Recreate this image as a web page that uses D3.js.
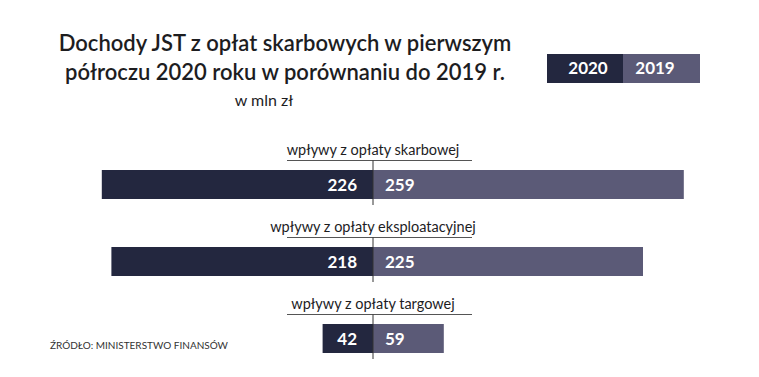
<!DOCTYPE html>
<html>
<head>
<meta charset="utf-8">
<script src="https://cdn.jsdelivr.net/npm/d3@7"></script>
<style>
  body { margin: 0; background: #fff; }
  svg text { font-family: Lato, "Open Sans", sans-serif; }
</style>
</head>
<body>
<svg id="chart" width="759" height="377"></svg>
<script>
const categories = ['wpływy z opłaty skarbowej', 'wpływy z opłaty eksploatacyjnej', 'wpływy z opłaty targowej'];
const values2020 = [226, 218, 42];
const values2019 = [259, 225, 59];
const seriesNames = ['2020', '2019'];

const svg = d3.select('#chart');
const width = +svg.attr('width');
const height = +svg.attr('height');

const colDark = '#23273f';
const colLight = '#5b5a77';
const textCol = '#1d1d1f';

const center = 373;
const pxPerUnit = 1.2;

// one scale centred on the divider: negative = 2020 (left), positive = 2019 (right)
const x = d3.scaleLinear()
  .domain([-300, 300])
  .range([center - 300 * pxPerUnit, center + 300 * pxPerUnit]);

const barH = 29;
const step = 77;
const y = d3.scaleBand()
  .domain(categories)
  .range([170, 170 + step * (3 - (1 - barH / step))])
  .paddingInner(1 - barH / step)
  .paddingOuter(0);

const data = categories.map((c, i) => ({ cat: c, v20: values2020[i], v19: values2019[i] }));

// title
const title = svg.append('text')
  .attr('x', 285)
  .attr('text-anchor', 'middle')
  .attr('fill', textCol)
  .style('font-size', '22px')
  .style('font-weight', 600);
title.append('tspan').attr('x', 285).attr('y', 51).text('Dochody JST z opłat skarbowych w pierwszym');
title.append('tspan').attr('x', 285).attr('y', 80).text('półroczu 2020 roku w porównaniu do 2019 r.');

svg.append('text')
  .attr('x', 264)
  .attr('y', 106)
  .attr('text-anchor', 'middle')
  .attr('fill', textCol)
  .style('font-size', '16px')
  .style('font-weight', 400)
  .text('w mln zł');

// legend
const legend = svg.append('g').attr('transform', 'translate(547,54)');
seriesNames.forEach((s, i) => {
  legend.append('rect')
    .attr('x', i * 76)
    .attr('y', 0)
    .attr('width', i === 0 ? 76 : 77)
    .attr('height', 29)
    .attr('fill', i === 0 ? colDark : colLight);
  legend.append('text')
    .attr('x', i === 0 ? 41 : 108)
    .attr('y', 20)
    .attr('text-anchor', 'middle')
    .attr('fill', '#fff')
    .style('font-size', '17px')
    .style('font-weight', 700)
    .text(s);
});

const g = svg.append('g');

const rows = g.selectAll('.row').data(data).enter().append('g').attr('class', 'row');

rows.append('rect')
  .attr('x', d => x(-d.v20))
  .attr('y', d => y(d.cat))
  .attr('width', d => x(0) - x(-d.v20))
  .attr('height', y.bandwidth())
  .attr('fill', colDark);

rows.append('rect')
  .attr('x', x(0))
  .attr('y', d => y(d.cat))
  .attr('width', d => x(d.v19) - x(0))
  .attr('height', y.bandwidth())
  .attr('fill', colLight);

// category label and underline
rows.append('text')
  .attr('x', x(0))
  .attr('y', d => y(d.cat) - 15)
  .attr('text-anchor', 'middle')
  .attr('fill', textCol)
  .style('font-size', '14.5px')
  .style('font-weight', 400)
  .text(d => d.cat);

rows.append('line')
  .attr('x1', 287)
  .attr('x2', 472)
  .attr('y1', d => y(d.cat) - 9.5)
  .attr('y2', d => y(d.cat) - 9.5)
  .attr('stroke', '#555')
  .attr('stroke-width', 1);

rows.append('line')
  .attr('x1', x(0))
  .attr('x2', x(0))
  .attr('y1', d => y(d.cat) - 9.5)
  .attr('y2', d => y(d.cat) + y.bandwidth() + 6)
  .attr('stroke', '#333')
  .attr('stroke-width', 1);

// values
rows.append('text')
  .attr('x', x(0) - 16)
  .attr('y', d => y(d.cat) + y.bandwidth() / 2 + 6)
  .attr('text-anchor', 'end')
  .attr('fill', '#fff')
  .style('font-size', '17px')
  .style('font-weight', 700)
  .text(d => d.v20);

rows.append('text')
  .attr('x', x(0) + 12)
  .attr('y', d => y(d.cat) + y.bandwidth() / 2 + 6)
  .attr('text-anchor', 'start')
  .attr('fill', '#fff')
  .style('font-size', '17px')
  .style('font-weight', 700)
  .text(d => d.v19);

// source
svg.append('text')
  .attr('x', 50)
  .attr('y', 349)
  .attr('fill', '#333')
  .style('font-size', '10px')
  .style('font-weight', 400)
  .text('ŹRÓDŁO: MINISTERSTWO FINANSÓW');
</script>
</body>
</html>
